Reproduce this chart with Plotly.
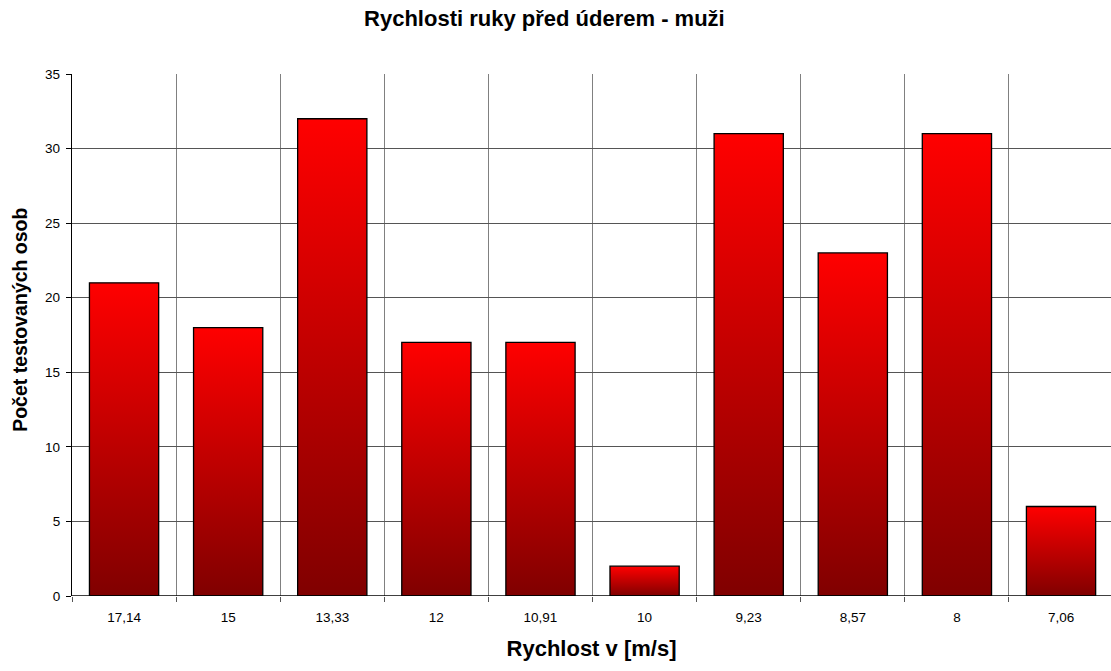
import plotly.graph_objects as go

# Data
speeds = ["17,14", "15", "13,33", "12", "10,91", "10", "9,23", "8,57", "8", "7,06"]
counts = [21, 18, 32, 17, 17, 2, 31, 23, 31, 6]

title_text = "Rychlosti ruky před úderem - muži"
x_title = "Rychlost v [m/s]"
y_title = "Počet testovaných osob"

bar_width = 0.665
half = bar_width / 2
font_family = "Liberation Sans, Arial, sans-serif"

fig = go.Figure()

# Each bar is a filled polygon with a vertical red gradient (dark at the base)
for i, (lab, val) in enumerate(zip(speeds, counts)):
    fig.add_trace(go.Scatter(
        x=[i - half, i + half, i + half, i - half, i - half],
        y=[0, 0, val, val, 0],
        mode="lines",
        fill="toself",
        fillgradient=dict(
            type="vertical",
            colorscale=[[0, "#800000"], [1, "#FF0000"]],
            start=0,
            stop=val,
        ),
        line=dict(color="black", width=1.3),
        hoverinfo="text",
        text=f"{lab}: {val}",
        showlegend=False,
    ))

fig.update_layout(
    width=1111,
    height=671,
    margin=dict(l=72, r=0, t=74, b=75),
    paper_bgcolor="white",
    plot_bgcolor="white",
    font=dict(family=font_family, size=13.5, color="black"),
    title=dict(
        text=title_text,
        font=dict(family=font_family, size=22, color="black", weight="bold"),
        x=0.49,
        xanchor="center",
        y=0.972,
        yanchor="middle",
    ),
    showlegend=False,
)

fig.update_xaxes(
    range=[-0.5, 9.48],
    tickmode="array",
    tickvals=list(range(len(speeds))),
    ticktext=speeds,
    ticks="",
    ticklabelstandoff=11,
    showgrid=False,
    zeroline=False,
    showline=False,
    tickfont=dict(size=13.5),
    title=dict(text=x_title, font=dict(size=22, weight="bold"), standoff=17),
    minor=dict(
        tick0=-0.5,
        dtick=1,
        ticks="outside",
        ticklen=5,
        tickcolor="#555555",
        tickwidth=1,
        showgrid=True,
        gridcolor="#808080",
        gridwidth=1,
    ),
    fixedrange=True,
)

fig.update_yaxes(
    range=[0, 35],
    tick0=0,
    dtick=5,
    ticks="outside",
    ticklen=5,
    tickcolor="black",
    ticklabelstandoff=3,
    showgrid=True,
    gridcolor="#555555",
    gridwidth=1,
    zeroline=False,
    showline=True,
    linecolor="black",
    linewidth=1.3,
    tickfont=dict(size=13.5),
    fixedrange=True,
)

# Vertical axis title, placed slightly above the plot's midpoint
fig.add_annotation(
    text=y_title,
    textangle=-90,
    xref="paper", yref="paper",
    x=0, y=0.529,
    xshift=-52,
    xanchor="center", yanchor="middle",
    showarrow=False,
    font=dict(size=19.5, weight="bold", family=font_family, color="black"),
)

# Baseline along zero
fig.add_shape(type="line", xref="paper", yref="y", x0=0, x1=1, y0=0, y1=0,
              line=dict(color="black", width=1.3), layer="above")

fig.write_html("out.html")
